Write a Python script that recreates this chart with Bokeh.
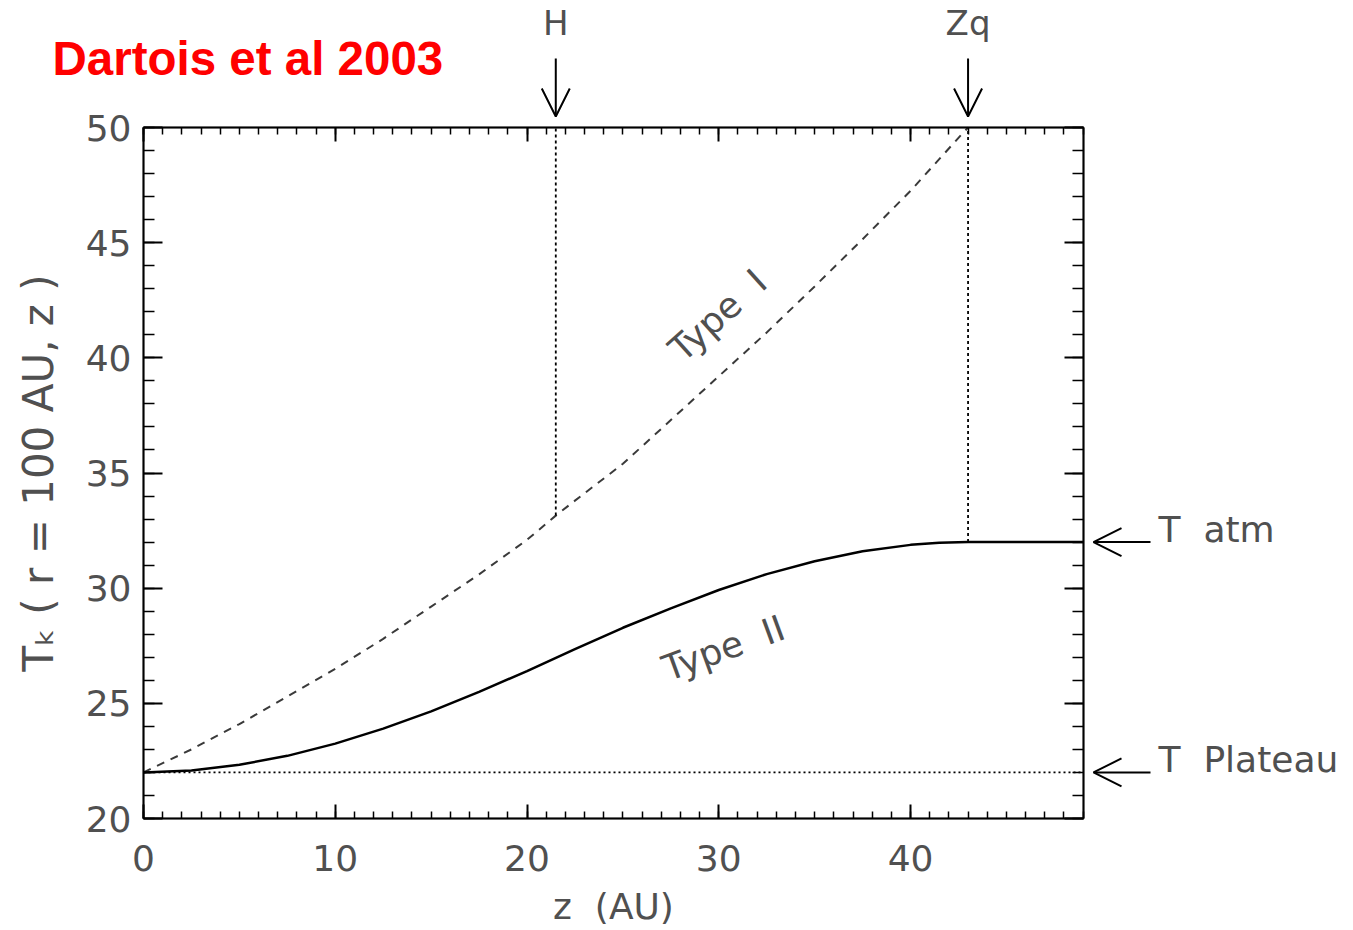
from bokeh.plotting import figure
from bokeh.models import (Arrow, OpenHead, Label, LinearAxis, SingleIntervalTicker,
                          Range1d, CustomJSTickFormatter, BoxAnnotation)
from bokeh.embed import file_html
from bokeh.resources import INLINE

# ---- data ----
z_type1 = [0, 2.5, 5, 7.5, 10, 12.5, 15, 17.5, 20, 21.5, 22.5, 25, 27.5, 30, 32.5, 35, 37.5, 40, 42.5, 43]
t_type1 = [22.0, 23.0, 24.1, 25.3, 26.5, 27.8, 29.2, 30.6, 32.1, 33.15, 33.8, 35.4, 37.3, 39.2, 41.1, 43.1, 45.15, 47.25, 49.55, 50.0]

z_type2 = [0, 2.5, 5, 7.5, 10, 12.5, 15, 17.5, 20, 22.5, 25, 27.5, 30, 32.5, 35, 37.5, 40, 41.5, 43, 49]
t_type2 = [22.0, 22.08, 22.33, 22.72, 23.25, 23.9, 24.65, 25.5, 26.4, 27.35, 28.28, 29.12, 29.92, 30.61, 31.17, 31.6, 31.88, 31.97, 32.0, 32.0]

H = 21.5          # scale height marker
Zq = 43.0         # z_q marker
T_plateau = 22.0
T_atm = 32.0
T_H = 33.15       # Type I value at H (bottom of dotted line)
z_min, z_max = 0.0, 49.02
t_min, t_max = 20.0, 50.0

x_ticks_major = 10
y_ticks_major = 5

# ---- layout (pixels of the reference) ----
W, Hgt = 1353, 930
BOX_L, BOX_R, BOX_T, BOX_B = 143, 1083, 127, 818
PX_X = (BOX_R - BOX_L) / (z_max - z_min)
PX_Y = (BOX_B - BOX_T) / (t_max - t_min)

TXT = "#505050"
FONT = "DejaVu Sans"

p = figure(width=W, height=Hgt, output_backend="svg", toolbar_location=None,
           x_range=Range1d(z_min - BOX_L / PX_X, z_min + (W - BOX_L) / PX_X),
           y_range=Range1d(t_min - (Hgt - BOX_B) / PX_Y, t_max + BOX_T / PX_Y),
           x_axis_type=None, y_axis_type=None, min_border=0)
p.title.visible = False
p.outline_line_color = None
p.background_fill_color = "white"
p.border_fill_color = "white"

EMPTY = CustomJSTickFormatter(code="return ''")


def make_axis(interval, nminor, loc, bounds, major_in, minor_in, labels=True):
    ax = LinearAxis(ticker=SingleIntervalTicker(interval=interval, num_minor_ticks=nminor),
                    fixed_location=loc, bounds=bounds)
    ax.axis_line_color = "black"
    ax.axis_line_width = 2
    ax.major_tick_in = major_in
    ax.major_tick_out = 0
    ax.minor_tick_in = minor_in
    ax.minor_tick_out = 0
    ax.major_tick_line_color = "black"
    ax.major_tick_line_width = 2
    ax.minor_tick_line_color = "black"
    ax.minor_tick_line_width = 1.5
    ax.major_label_text_font = FONT
    ax.major_label_text_color = TXT
    ax.major_label_text_font_size = "36px"
    if not labels:
        ax.formatter = EMPTY
    return ax


xb = make_axis(x_ticks_major, 10, t_min, (z_min, z_max), 14, 7)
xb.major_label_standoff = 26
xb.axis_label = "z\u00a0\u00a0(AU)"
xb.axis_label_text_font = FONT
xb.axis_label_text_font_style = "normal"
xb.axis_label_text_font_size = "36px"
xb.axis_label_text_color = TXT
xb.axis_label_standoff = 12
p.add_layout(xb, "below")

xt = make_axis(x_ticks_major, 10, t_max, (z_min, z_max), 14, 7, labels=False)
p.add_layout(xt, "above")

yl = make_axis(y_ticks_major, 5, z_min, (t_min, t_max), 19, 11)
yl.major_label_standoff = 12
yl.axis_label = "Tₖ ( r = 100 AU, z )"
yl.axis_label_text_font = FONT
yl.axis_label_text_font_style = "normal"
yl.axis_label_text_font_size = "42px"
yl.axis_label_text_color = TXT
yl.axis_label_standoff = 20
p.add_layout(yl, "left")

yr = make_axis(y_ticks_major, 5, z_max, (t_min, t_max), 19, 11, labels=False)
p.add_layout(yr, "right")

p.add_layout(BoxAnnotation(left=z_min, right=z_max, bottom=t_min, top=t_max,
                           fill_alpha=0, line_color="black", line_width=2))

# curves
p.line(z_type1, t_type1, line_color="#3a3a3a", line_width=2, line_dash="8 7")
p.line(z_type2, t_type2, line_color="black", line_width=2.5)

# dotted reference lines
p.line([z_min, z_max], [T_plateau, T_plateau], line_color="black", line_width=1.8, line_dash="2 3")
p.line([H, H], [T_H, t_max], line_color="black", line_width=1.8, line_dash="3 3")
p.line([Zq, Zq], [T_atm, t_max], line_color="black", line_width=1.8, line_dash="3 3")

# curve labels
p.add_layout(Label(x=29.95, y=41.85, text="Type\u00a0\u00a0I", angle=42, angle_units="deg",
                   text_align="center", text_baseline="middle", text_font=FONT,
                   text_font_size="36px", text_color=TXT))
p.add_layout(Label(x=30.25, y=27.4, text="Type\u00a0\u00a0II", angle=20, angle_units="deg",
                   text_align="center", text_baseline="middle", text_font=FONT,
                   text_font_size="36px", text_color=TXT))

# top arrows: H and Zq
for xv, name in [(H, "H"), (Zq, "Zq")]:
    p.add_layout(Arrow(end=OpenHead(size=28, line_width=2, line_color="black"),
                       x_start=xv, y_start=t_max + 69 / PX_Y, x_end=xv, y_end=t_max + 11 / PX_Y,
                       line_color="black", line_width=2))
    p.add_layout(Label(x=xv, y=t_max + 104.5 / PX_Y, text=name, text_align="center",
                       text_baseline="middle", text_font=FONT, text_font_size="34px",
                       text_color=TXT))

# right arrows: T atm and T Plateau
for yv, name in [(T_atm, "T\u00a0\u00a0atm"), (T_plateau, "T\u00a0\u00a0Plateau")]:
    p.add_layout(Arrow(end=OpenHead(size=28, line_width=2, line_color="black"),
                       x_start=z_max + 67 / PX_X, y_start=yv, x_end=z_max + 10 / PX_X, y_end=yv,
                       line_color="black", line_width=2))
    p.add_layout(Label(x=z_max + 75 / PX_X, y=yv + 13 / PX_Y, text=name, text_align="left",
                       text_baseline="middle", text_font=FONT, text_font_size="36px",
                       text_color=TXT))

# title
p.add_layout(Label(x=z_min - 91 / PX_X, y=t_max + 69 / PX_Y, text="Dartois et al 2003",
                   text_align="left", text_baseline="middle", text_font="Liberation Sans",
                   text_font_style="bold", text_font_size="47.5px", text_color="#ff0000"))

open("out.html", "w").write(file_html(p, INLINE))
